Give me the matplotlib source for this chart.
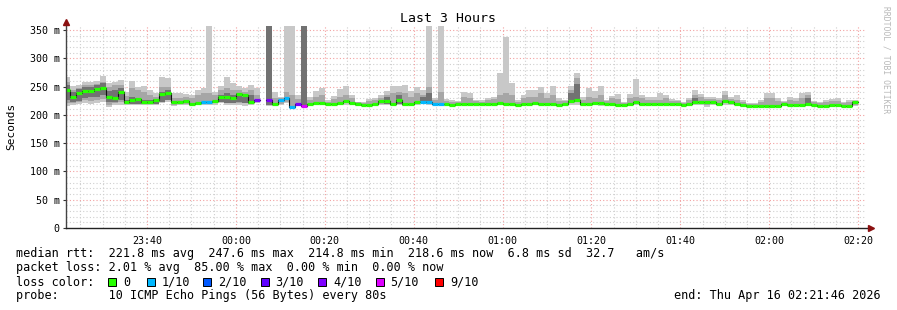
import numpy as np
import matplotlib
matplotlib.use("Agg")
import matplotlib.pyplot as plt
from matplotlib.patches import Rectangle
from matplotlib.lines import Line2D

nan = float("nan")

# ---------------- data (ms) ----------------
step_min = 80 / 60.0          # one probe round = 80 s
first_edge = -0.388           # minutes after 23:21:46 where first step starts

median_ms = [
    244, 232, 239, 243, 243, 246, 248, 232, 229, 241,
    223, 226, 228, 222, 222, 226, 237, 239, 223, 223,
    225, 220, 221, 223, 222, 225, 231, 232, 229, 237,
    235, 223, 227, nan, 226, 219, 226, 229, 214.5, 219,
    216, 219, 221, 221, 220, 220, 221, 225, 221, 219,
    217, 217, 219, 224, 224, 220, 227, 220, 220, 223,
    223, 222, 219, 219, 219, 217, 220, 219, 219, 220,
    219, 220, 220, 221, 220, 220, 217, 219, 220, 221,
    220, 219, 219, 217, 219, 224, 226, 219, 220, 221,
    221, 219, 220, 217, 217, 219, 223, 220, 220, 220,
    220, 220, 220, 220, 217, 219, 223, 223, 223, 222,
    220, 224, 223, 219, 217, 216, 216, 216, 216, 216,
    216, 219, 217, 217, 217, 219, 217, 216, 216, 217,
    217, 216, 216, 223,
]

smoke_lo = [
    215.7, 217.4, 219, 221, 220, 221, 222, 214.5, 217.4, 217.4,
    217.4, 217.4, 217.4, 217.4, 217.4, 217.4, 220.4, 223.3, 215.7, 217.4,
    217.4, 215.7, 218, 217.4, 217.4, 217.4, 220.4, 217.4, 216.8, 217.4,
    215.7, 217.4, 220.4, nan, 215.7, 215.7, 217.4, 220.4, 212, 215.7,
    214.5, 215.7, 217.4, 217.4, 216.8, 217.4, 217.4, 217.4, 217.4, 215.7,
    215.7, 215.7, 215.7, 217.4, 217.4, 215.7, 217.4, 215.7, 215.7, 217.4,
    220.4, 217.4, 217.4, 217.4, 215.7, 215.7, 217.4, 217.4, 217.4, 217.4,
    217.4, 217.4, 217.4, 217.4, 217.4, 217.4, 215.7, 215.7, 217.4, 217.4,
    218, 217.4, 217.4, 215.7, 217.4, 217.4, 217.4, 215.7, 217.4, 217.4,
    215.7, 216.8, 217.4, 215.7, 215.7, 217.4, 217.4, 215.7, 216.8, 216.8,
    217.4, 217.4, 217.4, 217.4, 214.5, 217.4, 217.4, 217.4, 214.5, 217.4,
    217.4, 217.4, 217.4, 217.4, 214.5, 214.5, 214.5, 214.5, 214.5, 214.5,
    214.5, 215.7, 215.7, 215.7, 215.7, 216.8, 215.7, 214.5, 214.5, 215.7,
    215.7, 214.5, 214.5, 215.7,
]

smoke_hi = [
    266.3, 251, 252.8, 258.7, 258.7, 260.4, 268.7, 256.9, 258.7, 261.6,
    241, 260.4, 249.8, 251, 244, 238, 267.5, 265.7, 238, 238,
    236.9, 235, 244, 246.9, 360, 241, 251, 266.3, 256.9, 251,
    246.9, 252.8, 248.1, nan, 360, 241, 231, 360, 360, 235.1,
    360, 231, 242.8, 246.9, 226.3, 233.3, 245.1, 251, 235.1, 223.3,
    223.3, 227.4, 229.2, 235.1, 242.8, 251, 251, 252.8, 242.8, 249.8,
    244, 360, 229.2, 360, 227.4, 226.3, 225.1, 241, 238, 226.3,
    226.3, 229.2, 232.2, 273.4, 337, 256.9, 226.3, 235.1, 244, 244,
    250, 239.2, 251, 229.2, 226.3, 251, 273.4, 231, 246.9, 242.8,
    251, 226.3, 233.3, 236.9, 223.3, 236.9, 262.8, 235.1, 231, 231,
    239.2, 235.1, 227.4, 226.3, 223.3, 229.2, 244, 236.9, 232.2, 231,
    229.2, 242.8, 231, 235.1, 226.3, 220.4, 220.4, 226.3, 239.2, 239.2,
    229.2, 225.1, 231, 229.2, 239.2, 239.8, 225.1, 223.3, 226.3, 227.4,
    229.2, 223.3, 226.3, 226.3,
]

mid_lo = [
    220.4, 220.4, 223, 226, 224, 226, 228, 217.4, 220.4, 223.3,
    220.4, 220.4, 220.4, 220.4, 220.4, 220.4, 223.3, 226.3, 217.4, 219,
    219, 217.4, 219, 220.4, 220.4, 220.4, 223.3, 220.4, 220.4, 221.6,
    220.4, 220.4, 223.3, nan, 216.8, 217.4, 219, 222, 214, 216.8,
    215, 217.4, 219, 219, 218, 218.6, 219, 220.4, 219, 216.8,
    216, 216, 217, 220, 219, 218, 220.4, 218, 218, 220,
    221.6, 223.3, 218, 220.4, 217, 216.5, 218.6, 218, 218, 218.6,
    218, 218.6, 218.6, 220.4, 220.4, 219, 216.5, 217.4, 218.6, 219,
    219, 218, 218.6, 216.5, 218, 220.4, 223.3, 217.4, 218.6, 219,
    219, 218, 218.6, 216.5, 216.5, 218, 220.4, 218, 218, 218.6,
    219.2, 218.6, 218.6, 218.6, 216, 218, 220.4, 220.4, 217.4, 219,
    218.6, 220.4, 219.2, 218, 216, 215, 215, 215.5, 215.7, 215.7,
    215.5, 217.4, 216.5, 216.5, 216.8, 217.4, 216.5, 215.5, 215.5, 216.5,
    216.5, 215.5, 215.5, 217.4,
]

mid_hi = [
    258.7, 244, 247, 252.8, 252, 254, 258.7, 249.8, 252.8, 252.8,
    233.3, 246.9, 244, 241, 235, 232, 249.8, 249.8, 229, 230,
    231, 229, 235, 238, 238, 235, 244, 246.9, 244, 244,
    241, 244, 235, nan, 360, 229.2, 229, 240, 235, 228,
    360, 226, 232, 235, 223, 228, 232, 235, 229, 222,
    221, 224, 226, 230, 235, 238, 240, 238, 232, 238,
    235, 249.8, 226, 241, 224, 222, 223, 232, 229, 224,
    223, 226, 228, 235, 238, 235, 222, 229, 232, 232,
    238, 230, 235.1, 225, 224, 244, 264.6, 226, 231, 229,
    235, 224, 229, 228, 221, 229, 232, 229, 227, 227,
    226, 229, 224, 224, 221, 226, 235.1, 231, 227.4, 228,
    227, 235.1, 228, 226.3, 223, 218.6, 218.6, 222, 229.2, 229.2,
    225, 223, 226, 225, 229.2, 235, 222, 220.4, 222, 224,
    225, 220.4, 222, 225,
]

dark_lo = [
    226, 222, 224, 229, 232, 232, 235, 223.3, 223.3, 226.3,
    219, 219, 220, 219, 219, 220, 223.3, 226.3, nan, nan,
    nan, nan, nan, nan, nan, nan, 223, 221, 221, 222,
    221, 220, nan, nan, 216.8, nan, nan, nan, nan, nan,
    215, nan, nan, nan, nan, nan, nan, nan, nan, nan,
    nan, nan, nan, nan, 219, nan, 220, nan, nan, nan,
    222, 222, nan, nan, nan, nan, nan, nan, nan, nan,
    nan, nan, nan, nan, nan, nan, nan, nan, nan, nan,
    nan, nan, nan, nan, nan, 221, 223.3, nan, nan, nan,
    nan, nan, nan, nan, nan, nan, nan, nan, nan, nan,
    nan, nan, nan, nan, nan, nan, 221, nan, nan, nan,
    nan, nan, nan, nan, nan, nan, nan, nan, nan, nan,
    nan, nan, nan, nan, nan, 218, nan, nan, nan, nan,
    nan, nan, nan, nan,
]

dark_hi = [
    252.8, 240, 245, 249.8, 249.8, 252.8, 255.7, 242.8, 244, 246.9,
    226, 232, 230, 226, 226, 228, 241, 244, nan, nan,
    nan, nan, nan, nan, nan, nan, 235, 238, 235, 238,
    232, 235, nan, nan, 360, nan, nan, nan, nan, nan,
    360, nan, nan, nan, nan, nan, nan, nan, nan, nan,
    nan, nan, nan, nan, 232, nan, 235, nan, nan, nan,
    232, 238, nan, nan, nan, nan, nan, nan, nan, nan,
    nan, nan, nan, nan, nan, nan, nan, nan, nan, nan,
    nan, nan, nan, nan, nan, 238, 255, nan, nan, nan,
    nan, nan, nan, nan, nan, nan, nan, nan, nan, nan,
    nan, nan, nan, nan, nan, nan, 229, nan, nan, nan,
    nan, nan, nan, nan, nan, nan, nan, nan, nan, nan,
    nan, nan, nan, nan, nan, 229, nan, nan, nan, nan,
    nan, nan, nan, nan,
]

# lost pings out of 10 for each step
loss_tenths = [0] * 134
for i in (23, 24, 36, 37, 38, 60, 61, 62, 63):
    loss_tenths[i] = 1
for i in (32, 34, 39):
    loss_tenths[i] = 4
loss_tenths[40] = 5

loss_labels = ["0", "1/10", "2/10", "3/10", "4/10", "5/10", "9/10"]
loss_keys = [0, 1, 2, 3, 4, 5, 9]
loss_colors = ["#26ff00", "#00b8ff", "#0059ff", "#5e00ff", "#7e00ff", "#dd00ff", "#ff0000"]

time_labels = ["23:40", "00:00", "00:20", "00:40", "01:00", "01:20", "01:40", "02:00", "02:20"]
first_label_min = 18.233      # 23:40 minus 23:21:46
y_labels = ["0", "50 m", "100 m", "150 m", "200 m", "250 m", "300 m", "350 m"]

# ---------------- figure ----------------
W, H = 897, 310
fig = plt.figure(figsize=(W / 100, H / 100), dpi=100)
fig.patch.set_facecolor("white")
MONO = "DejaVu Sans Mono"

L, R, T, B = 66, 866, 26, 228
ax = fig.add_axes([L / W, 1 - B / H, (R - L) / W, (B - T) / H])
ax.set_xlim(0, 180)
ax.set_ylim(0, 357)
ax.set_facecolor("white")
for s in ax.spines.values():
    s.set_visible(False)

# grid
minor_col = "#cfcfcf"
major_col = "#f2a0a0"
dot = (0, (1, 2))
for v in np.arange(10, 357, 10):
    if v % 50:
        ax.axhline(v, color=minor_col, lw=0.8, ls=dot, zorder=0)
for v in np.arange(50, 357, 50):
    ax.axhline(v, color=major_col, lw=0.8, ls=dot, zorder=0.5)
t = first_label_min - 15
while t < 180:
    if abs(((t - first_label_min) / 20) - round((t - first_label_min) / 20)) > 1e-6:
        ax.axvline(t, color=minor_col, lw=0.8, ls=dot, zorder=0)
    t += 5
tick_pos = [first_label_min + 20 * i for i in range(len(time_labels))]
for p in tick_pos:
    ax.axvline(p, color=major_col, lw=0.8, ls=dot, zorder=0.5)

n = len(median_ms)
left = first_edge + step_min * np.arange(n)
med = np.array(median_ms, float)
lo = np.array(smoke_lo, float)
hi = np.array(smoke_hi, float)
mlo = np.array(mid_lo, float)
mhi = np.array(mid_hi, float)
dlo = np.array(dark_lo, float)
dhi = np.array(dark_hi, float)


def band(a, b, color, z):
    m = ~(np.isnan(a) | np.isnan(b))
    ax.bar(left[m], (b - a)[m], bottom=a[m], width=step_min, align="edge",
           color=color, linewidth=0, zorder=z, antialiased=False)


band(lo, hi, "#c8c8c8", 1)
band(mlo, mhi, "#a6a6a6", 2)
band(dlo, dhi, "#727272", 3)

# median: black step line + loss-coloured segments
edges = np.append(left, left[-1] + step_min)
ax.step(edges, np.append(med, med[-1]), where="post", color="#111111", lw=0.8, zorder=4)
cmap = dict(zip(loss_keys, loss_colors))
m = ~np.isnan(med)
ax.hlines(med[m], left[m], left[m] + step_min,
          colors=[cmap[loss_tenths[i]] for i in np.where(m)[0]], lw=2.3, zorder=5)

# ticks
ax.set_yticks(np.arange(0, 351, 50))
ax.set_yticklabels(y_labels, fontfamily=MONO, fontsize=7.2)
ax.set_xticks(tick_pos)
ax.set_xticklabels(time_labels, fontfamily=MONO, fontsize=7.2)
ax.tick_params(axis="y", length=2, width=0.8, pad=2.5, color="#333333")
ax.tick_params(axis="x", length=0, pad=6)

# axes lines and arrows
ax.add_line(Line2D([0, 0], [0, 1], transform=ax.transAxes, color="#444444", lw=1, clip_on=False, zorder=6))
ax.add_line(Line2D([0, 1.004], [0, 0], transform=ax.transAxes, color="#222222", lw=1, clip_on=False, zorder=6))
ax.plot([0], [1.02], marker="^", ms=4.5, color="#8b1010", transform=ax.transAxes, clip_on=False, zorder=7)
ax.plot([1.006], [0], marker=">", ms=4.5, color="#8b1010", transform=ax.transAxes, clip_on=False, zorder=7)

# texts
fig.text(448 / W, 1 - 19 / H, "Last 3 Hours", ha="center", va="center", fontfamily=MONO, fontsize=9.5)
fig.text(11 / W, 1 - 126 / H, "Seconds", ha="center", va="center", rotation=90, fontfamily=MONO, fontsize=8)
fig.text(886 / W, 1 - 60 / H, "RRDTOOL / TOBI OETIKER", ha="center", va="center", rotation=270,
         fontfamily=MONO, fontsize=5.8, color="#b8b8b8")

FS = 8.5
rows = [254, 268, 282, 296]
fig.text(16 / W, 1 - rows[0] / H,
         "median rtt:  221.8 ms avg  247.6 ms max  214.8 ms min  218.6 ms now  6.8 ms sd  32.7   am/s",
         ha="left", va="center", fontfamily=MONO, fontsize=FS)
fig.text(16 / W, 1 - rows[1] / H,
         "packet loss: 2.01 % avg  85.00 % max  0.00 % min  0.00 % now",
         ha="left", va="center", fontfamily=MONO, fontsize=FS)
fig.text(16 / W, 1 - rows[2] / H, "loss color:", ha="left", va="center", fontfamily=MONO, fontsize=FS)
box_x = [108, 147, 203, 261, 318, 376, 435]
txt_x = [123, 162, 218, 275, 333, 390, 450]
for bx, tx, lab, col in zip(box_x, txt_x, loss_labels, loss_colors):
    fig.patches.append(Rectangle((bx / W, 1 - (rows[2] + 4) / H), 8 / W, 8 / H,
                                 transform=fig.transFigure, facecolor=col, edgecolor="#000000", lw=0.7))
    fig.text(tx / W, 1 - rows[2] / H, lab, ha="left", va="center", fontfamily=MONO, fontsize=FS)
fig.text(16 / W, 1 - rows[3] / H, "probe:       10 ICMP Echo Pings (56 Bytes) every 80s",
         ha="left", va="center", fontfamily=MONO, fontsize=FS)
fig.text(881 / W, 1 - rows[3] / H, "end: Thu Apr 16 02:21:46 2026",
         ha="right", va="center", fontfamily=MONO, fontsize=FS)

fig.savefig("out.png", dpi=100, facecolor="white")
